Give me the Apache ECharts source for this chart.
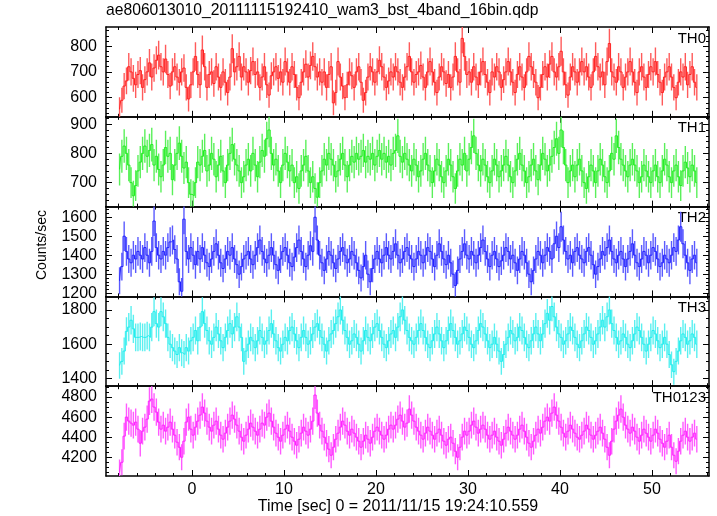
<!DOCTYPE html>
<html><head><meta charset="utf-8">
<script src="https://cdn.jsdelivr.net/npm/echarts@6/dist/echarts.min.js"></script>
<style>html,body{margin:0;padding:0;background:#fff}#c{width:717px;height:516px}</style>
</head><body><div id="c"></div>
<script>
// ---- data ----
const tStart = -7.875;      // centre of first bin [s]
const binWidth = 0.25;      // bin width [s]
const panelNames = ['TH0', 'TH1', 'TH2', 'TH3', 'TH0123'];
const xMajorTicks = [0, 10, 20, 30, 40, 50];
const xMinorTicks = [-8, -6, -4, -2, 2, 4, 6, 8, 12, 14, 16, 18, 22, 24, 26, 28, 32, 34, 36, 38, 42, 44, 46, 48, 52, 54, 56];

const th0 = [
 555,590,645,665,720,700,675,650, 690,705,640,670,700,735,680,715,
 745,765,720,700,750,690,645,700, 720,680,660,700,715,640,595,650,
 700,760,690,650,785,720,640,690, 700,655,720,680,640,700,660,620,
 680,790,700,720,760,680,720,700, 660,705,740,690,700,640,680,720,
 650,610,685,700,720,675,700,660, 740,700,660,720,690,640,600,660,
 700,730,680,725,760,720,680,700, 660,700,640,690,720,580,620,740,
 680,645,600,650,700,685,640,700, 720,660,590,620,680,720,700,660,
 700,745,720,680,640,665,700,680, 720,700,660,640,680,720,760,700,
 660,690,700,725,680,640,700,740, 700,660,620,680,720,700,655,690,
 640,680,760,700,660,830,760,690, 700,660,720,680,650,700,740,690,
 660,620,700,680,720,700,640,670, 700,740,700,660,620,690,720,680,
 640,700,760,720,690,660,600,640, 690,720,680,730,760,700,680,720,
 780,700,650,610,680,720,700,660, 700,740,700,720,680,640,700,760,
 720,680,700,650,740,810,700,680, 660,720,700,640,680,700,740,700,
 660,620,700,720,680,640,690,720, 700,740,690,660,620,680,700,720,
 680,640,600,660,700,680,720,650, 690,720,660,640
];
const th1 = [
 745,790,825,800,760,700,655,690, 740,770,800,825,790,810,830,760,
 790,745,720,760,820,790,800,710, 760,800,835,790,750,770,700,660,
 655,700,770,760,790,810,740,760, 800,780,720,760,790,740,700,760,
 800,830,780,760,740,700,720,760, 780,740,800,760,720,770,810,790,
 850,880,800,760,780,740,700,760, 800,770,740,760,700,720,680,740,
 760,790,740,700,720,680,650,700, 740,780,760,800,780,760,720,740,
 780,800,760,720,760,790,770,800, 780,790,810,770,790,780,800,760,
 790,810,780,800,770,790,760,800, 810,860,790,770,800,780,760,740,
 780,760,720,740,780,800,760,740, 700,740,780,760,720,700,740,780,
 760,720,680,740,780,760,800,740, 780,820,860,800,760,740,780,760,
 720,700,740,780,760,720,740,760, 790,760,720,700,740,780,800,760,
 740,700,720,760,780,740,710,760, 800,780,740,760,790,820,850,800,
 880,820,760,700,740,760,720,760, 780,740,700,680,720,760,740,700,
 740,780,760,720,700,740,800,780, 860,820,780,760,740,720,760,780,
 760,740,700,720,760,740,720,700, 740,760,720,700,740,780,760,720,
 700,740,760,720,690,740,770,750, 720,760,740,700
];
const th2 = [
 1265,1340,1500,1420,1380,1360,1400,1380, 1420,1400,1380,1440,1400,1360,1420,1580,
 1440,1400,1380,1420,1400,1440,1470,1480, 1430,1380,1260,1210,1590,1420,1380,1440,
 1400,1350,1420,1380,1440,1400,1360,1340, 1380,1420,1460,1400,1360,1330,1380,1420,
 1400,1440,1380,1350,1300,1340,1380,1400, 1420,1380,1350,1400,1440,1480,1420,1380,
 1360,1400,1440,1400,1350,1320,1380,1420, 1440,1400,1360,1340,1390,1440,1480,1420,
 1380,1340,1400,1450,1420,1600,1480,1400, 1360,1320,1380,1420,1400,1360,1330,1380,
 1420,1440,1400,1360,1380,1420,1400,1360, 1320,1280,1340,1400,1300,1260,1330,1380,
 1420,1380,1360,1400,1440,1400,1380,1420, 1460,1400,1360,1380,1420,1440,1400,1380,
 1340,1380,1420,1400,1360,1400,1440,1420, 1380,1340,1400,1460,1420,1380,1350,1400,
 1360,1300,1240,1320,1380,1420,1460,1400, 1380,1420,1400,1360,1400,1440,1480,1420,
 1380,1340,1400,1420,1380,1340,1370,1400, 1440,1420,1380,1400,1360,1320,1380,1420,
 1400,1360,1300,1260,1320,1380,1420,1400, 1360,1400,1440,1420,1380,1460,1500,1440,
 1550,1480,1420,1380,1400,1360,1420,1440, 1400,1380,1360,1420,1440,1400,1350,1300,
 1340,1380,1420,1400,1440,1480,1420,1380, 1360,1400,1420,1380,1340,1380,1420,1460,
 1400,1360,1340,1380,1420,1400,1360,1400, 1440,1420,1380,1340,1360,1400,1380,1360,
 1400,1440,1420,1480,1550,1460,1400,1360, 1320,1380,1400,1360
];
const th3 = [
 1476,1500,1560,1675,1700,1740,1690,1640, 1640,1645,1640,1640,1650,1640,1700,1790,
 1720,1700,1790,1760,1720,1640,1600,1580, 1560,1540,1580,1550,1540,1580,1560,1620,
 1640,1680,1620,1700,1790,1720,1680,1620, 1600,1640,1700,1660,1620,1580,1640,1680,
 1720,1660,1700,1760,1700,1640,1500,1560, 1600,1640,1620,1580,1620,1680,1640,1600,
 1620,1680,1720,1660,1620,1580,1560,1600, 1640,1620,1680,1700,1660,1620,1580,1640,
 1680,1640,1600,1620,1660,1700,1720,1680, 1640,1600,1560,1620,1660,1680,1720,1760,
 1800,1740,1680,1640,1600,1620,1660,1640, 1600,1560,1620,1680,1640,1620,1660,1700,
 1720,1680,1640,1600,1580,1620,1660,1680, 1640,1700,1760,1800,1740,1680,1640,1620,
 1600,1640,1680,1720,1680,1640,1600,1580, 1620,1660,1700,1660,1620,1580,1620,1680,
 1720,1680,1640,1600,1620,1660,1700,1680, 1640,1600,1580,1620,1680,1720,1700,1660,
 1620,1580,1600,1640,1600,1560,1500,1540, 1600,1640,1680,1660,1620,1640,1700,1680,
 1640,1600,1580,1620,1660,1700,1660,1620, 1660,1720,1780,1740,1820,1760,1700,1660,
 1640,1600,1620,1660,1700,1680,1640,1600, 1580,1620,1660,1700,1680,1640,1600,1620,
 1660,1700,1740,1700,1760,1800,1720,1680, 1640,1600,1620,1660,1640,1600,1580,1620,
 1660,1700,1680,1640,1600,1560,1600,1640, 1680,1660,1620,1580,1600,1640,1600,1540,
 1480,1440,1500,1560,1620,1660,1640,1600, 1620,1660,1640,1600
];
const th0123 = [
 4050,4150,4410,4600,4560,4540,4520,4550, 4480,4340,4460,4500,4580,4760,4780,4700,
 4650,4550,4480,4520,4460,4500,4550,4480, 4420,4350,4300,4200,4360,4550,4600,4480,
 4420,4500,4560,4620,4700,4640,4560,4500, 4460,4520,4560,4480,4420,4380,4440,4500,
 4560,4620,4580,4520,4460,4400,4360,4420, 4480,4540,4500,4460,4420,4480,4540,4520,
 4600,4640,4560,4500,4440,4400,4360,4420, 4480,4520,4460,4400,4360,4320,4380,4440,
 4500,4460,4420,4480,4560,4820,4640,4520, 4460,4400,4340,4280,4220,4300,4380,4440,
 4500,4560,4520,4460,4420,4480,4440,4400, 4360,4300,4360,4420,4380,4340,4400,4460,
 4500,4460,4420,4380,4420,4480,4520,4480, 4520,4580,4620,4560,4500,4540,4680,4620,
 4560,4500,4460,4420,4380,4440,4500,4460, 4420,4380,4440,4480,4420,4360,4320,4380,
 4400,4340,4260,4200,4300,4400,4460,4420, 4460,4520,4560,4500,4440,4480,4520,4480,
 4420,4380,4420,4460,4400,4360,4320,4380, 4440,4500,4460,4420,4380,4420,4480,4520,
 4460,4400,4340,4300,4360,4420,4480,4440, 4500,4560,4600,4560,4640,4700,4620,4560,
 4500,4440,4400,4460,4520,4480,4440,4400, 4380,4420,4460,4520,4480,4420,4380,4420,
 4460,4500,4440,4380,4300,4220,4360,4480, 4560,4620,4680,4600,4520,4480,4440,4500,
 4460,4400,4360,4420,4480,4440,4400,4360, 4420,4480,4440,4380,4340,4300,4360,4420,
 4300,4220,4160,4260,4360,4420,4460,4400, 4360,4400,4440,4380
];
const th0Ticks = [600, 700, 800];
const th1Ticks = [700, 800, 900];
const th2Ticks = [1200, 1300, 1400, 1500, 1600];
const th3Ticks = [1400, 1600, 1800];
const th0123Ticks = [4200, 4400, 4600, 4800];

// ---- layout / style ----
const FONT = "'Liberation Sans', Arial, Helvetica, sans-serif";
const FS = 16;
const plotLeft = 106, plotRight = 709, plotTop = 27, panelH = 89.8;
const xMin = -9.35, xMax = 56.2;
const panelCfg = [
  {vals: th0, ticks: th0Ticks, minorStep: 20, range: [526, 874], color: '#ff2020', errColor: '#ff5a5a'},
  {vals: th1, ticks: th1Ticks, minorStep: 20, range: [618, 925], color: '#20ee20', errColor: '#5af05a'},
  {vals: th2, ticks: th2Ticks, minorStep: 20, range: [1183, 1656], color: '#2020ff', errColor: '#5a5aff'},
  {vals: th3, ticks: th3Ticks, minorStep: 50, range: [1355, 1879], color: '#20eeee', errColor: '#5af0f0'},
  {vals: th0123, ticks: th0123Ticks, minorStep: 50, range: [4013, 4908], color: '#ff20ff', errColor: '#ff5aff'}
];

const grids = [], xAxes = [], yAxes = [], series = [], graphics = [];
const black = '#000';
const plainNum = v => String(Math.round(v));

panelCfg.forEach((p, i) => {
  const minor = [];
  for (let v = Math.ceil(p.range[0] / p.minorStep) * p.minorStep; v <= p.range[1]; v += p.minorStep) {
    if (p.ticks.indexOf(v) < 0) minor.push(v);
  }
  const top = plotTop + i * panelH;
  const firstX = xAxes.length, firstY = yAxes.length;
  for (let g = 0; g < 2; g++) {
    const isMajor = g === 0;
    grids.push({left: plotLeft, width: plotRight - plotLeft, top: top, height: panelH});
    const gi = grids.length - 1;
    ['bottom', 'top'].forEach(pos => {
      xAxes.push({
        type: 'value', gridIndex: gi, position: pos, min: xMin, max: xMax,
        axisLine: {show: isMajor, onZero: false, lineStyle: {color: black, width: 1.5}},
        axisTick: {show: true, inside: true, length: isMajor ? 6 : 3,
                   customValues: isMajor ? xMajorTicks : xMinorTicks, lineStyle: {color: black, width: 1}},
        axisLabel: {show: isMajor && pos === 'bottom' && i === panelCfg.length - 1,
                    customValues: xMajorTicks, formatter: plainNum,
                    color: black, fontSize: FS, fontFamily: FONT, margin: 6},
        splitLine: {show: false}
      });
    });
    ['left', 'right'].forEach(pos => {
      yAxes.push({
        type: 'value', gridIndex: gi, position: pos, min: p.range[0], max: p.range[1],
        axisLine: {show: isMajor, onZero: false, lineStyle: {color: black, width: 1.5}},
        axisTick: {show: true, inside: true, length: isMajor ? 6 : 3,
                   customValues: isMajor ? p.ticks : minor, lineStyle: {color: black, width: 1}},
        axisLabel: {show: isMajor && pos === 'left', customValues: p.ticks, formatter: plainNum,
                    color: black, fontSize: FS, fontFamily: FONT, margin: 9},
        splitLine: {show: false}
      });
    });
  }
  const pts = p.vals.map((v, k) => [tStart + k * binWidth, v]);
  const errs = p.vals.map((v, k) => {
    const e = 2 * Math.sqrt(v);   // Poisson error for 0.25 s bins
    return [tStart + k * binWidth, v - e, v + e];
  });
  series.push({
    type: 'custom', xAxisIndex: firstX, yAxisIndex: firstY, clip: true, data: errs,
    color: p.errColor, itemStyle: {color: p.errColor},
    renderItem: (params, api) => {
      const a = api.coord([api.value(0), api.value(1)]);
      const b = api.coord([api.value(0), api.value(2)]);
      return {type: 'line', shape: {x1: a[0], y1: a[1], x2: a[0], y2: b[1]},
              style: {stroke: p.errColor, lineWidth: 1.4, fill: null}};
    },
    silent: true
  });
  series.push({
    type: 'line', xAxisIndex: firstX, yAxisIndex: firstY, data: pts, step: 'middle',
    color: p.color, showSymbol: false, symbol: 'none', clip: true, silent: true,
    lineStyle: {color: p.color, width: 1}
  });
  graphics.push({
    type: 'text', right: 717 - 706, top: top + 4,
    style: {text: panelNames[i], fill: black, font: '15px ' + FONT}
  });
});

graphics.push({type: 'text', left: 106, top: 3,
  style: {text: 'ae806013010_20111115192410_wam3_bst_4band_16bin.qdp', fill: black, font: '15.7px ' + FONT}});
graphics.push({type: 'text', x: 42, y: 245, rotation: Math.PI / 2,
  style: {text: 'Counts/sec', fill: black, font: '14px ' + FONT, textAlign: 'center', textVerticalAlign: 'middle'}});
graphics.push({type: 'text', x: 398, y: 507,
  style: {text: 'Time [sec] 0 = 2011/11/15 19:24:10.559', fill: black, font: '16px ' + FONT, textAlign: 'center', textVerticalAlign: 'middle'}});

const chart = echarts.init(document.getElementById('c'), null, {renderer: 'canvas'});
chart.setOption({
  animation: false,
  backgroundColor: '#fff',
  grid: grids, xAxis: xAxes, yAxis: yAxes, series: series, graphic: graphics
});
</script></body></html>
